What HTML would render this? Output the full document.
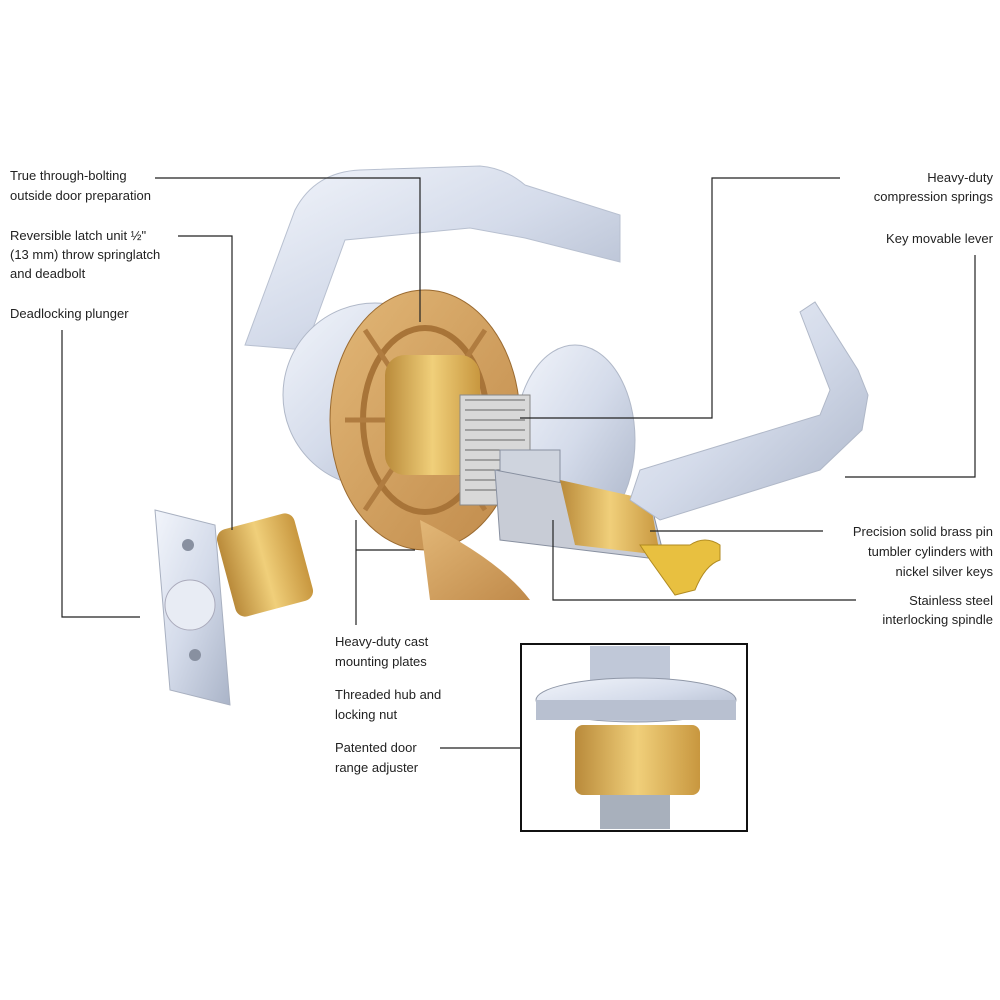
<!DOCTYPE html>
<html><head><meta charset="utf-8"><style>
html,body{margin:0;padding:0;background:#fff;}
svg{display:block}
text{font-family:"Liberation Sans",sans-serif;font-size:13px;fill:#222;}
</style></head><body>
<svg width="1000" height="1000" viewBox="0 0 1000 1000">
<defs>
<linearGradient id="chrome" x1="0" y1="0" x2="1" y2="1"><stop offset="0" stop-color="#f2f5fb"/><stop offset="0.5" stop-color="#d4dbea"/><stop offset="1" stop-color="#aab4c8"/></linearGradient>
<linearGradient id="gold" x1="0" y1="0" x2="1" y2="0"><stop offset="0" stop-color="#b98a3a"/><stop offset="0.5" stop-color="#f0cf7a"/><stop offset="1" stop-color="#c8973f"/></linearGradient>
<linearGradient id="tan" x1="0" y1="0" x2="1" y2="1"><stop offset="0" stop-color="#e2b777"/><stop offset="1" stop-color="#c08a4a"/></linearGradient>
</defs>
<!-- back lever -->
<path d="M245,345 L295,210 Q315,172 360,170 L480,166 Q505,168 525,185 L620,215 L620,262 L525,238 L470,228 L345,240 L305,350 Z" fill="url(#chrome)" stroke="#b8c0d0"/>
<!-- back rose -->
<circle cx="375" cy="395" r="92" fill="url(#chrome)" stroke="#b0b8c8"/>
<!-- mounting plate -->
<ellipse cx="425" cy="420" rx="95" ry="130" fill="url(#tan)" stroke="#9a6a30"/>
<ellipse cx="425" cy="420" rx="62" ry="92" fill="none" stroke="#a87438" stroke-width="6"/>
<path d="M365,330 L485,510 M365,510 L485,330 M345,420 L505,420" stroke="#b07c40" stroke-width="5"/>
<path d="M420,520 Q500,560 530,600 L430,600 Z" fill="url(#tan)"/>
<!-- front rose -->
<ellipse cx="575" cy="440" rx="60" ry="95" fill="url(#chrome)" stroke="#b0b8c8"/>
<!-- gold cylinder -->
<rect x="385" y="355" width="95" height="120" rx="20" fill="url(#gold)"/>
<!-- spring -->
<rect x="460" y="395" width="70" height="110" fill="#d8d8d8" stroke="#888"/>
<path d="M465,400 L525,400 M465,410 L525,410 M465,420 L525,420 M465,430 L525,430 M465,440 L525,440 M465,450 L525,450 M465,460 L525,460 M465,470 L525,470 M465,480 L525,480 M465,490 L525,490" stroke="#666"/>
<!-- hub -->
<rect x="500" y="450" width="60" height="70" fill="#cfd4de" stroke="#8890a0"/>
<!-- spindle -->
<path d="M495,470 L650,500 L665,560 L500,540 Z" fill="#c8ccd6" stroke="#8890a0"/>
<path d="M560,480 L650,500 L660,555 L575,545 Z" fill="url(#gold)"/>
<!-- front lever -->
<path d="M630,500 L640,470 L820,415 L830,390 L800,312 L815,302 L858,370 L868,395 L862,430 L820,470 L660,520 Z" fill="url(#chrome)" stroke="#b0b8c8"/>
<!-- key -->
<path d="M640,545 L690,545 Q705,535 720,545 L720,560 Q705,565 695,590 L675,595 L650,560 Z" fill="#e8c040" stroke="#b08a20"/>
<!-- latch -->
<rect x="225" y="520" width="80" height="90" rx="10" fill="url(#gold)" transform="rotate(-15 265 565)"/>
<path d="M155,510 L215,525 L230,705 L170,690 Z" fill="url(#chrome)" stroke="#a8b0c0"/>
<circle cx="188" cy="545" r="6" fill="#8890a0"/><circle cx="195" cy="655" r="6" fill="#8890a0"/>
<circle cx="190" cy="605" r="25" fill="#e8ecf4" stroke="#aab"/>
<!-- labels left -->
<text x="10" y="180">True through-bolting</text>
<text x="10" y="200">outside door preparation</text>
<text x="10" y="240">Reversible latch unit ½"</text>
<text x="10" y="259">(13 mm) throw springlatch</text>
<text x="10" y="278">and deadbolt</text>
<text x="10" y="318">Deadlocking plunger</text>
<g stroke="#222" fill="none" stroke-width="1.2">
<path d="M155,178 L420,178 L420,322"/>
<path d="M178,236 L232,236 L232,530"/>
<path d="M62,330 L62,617 L140,617"/>
<path d="M840,178 L712,178 L712,418 L520,418"/>
<path d="M975,255 L975,477 L845,477"/>
<path d="M823,531 L650,531"/>
<path d="M553,520 L553,600 L856,600"/>
<path d="M356,520 L356,625 M356,550 L415,550"/>
<path d="M440,748 L600,748"/>
</g>
<g text-anchor="end">
<text x="993" y="182">Heavy-duty</text>
<text x="993" y="201">compression springs</text>
<text x="993" y="243">Key movable lever</text>
<text x="993" y="536">Precision solid brass pin</text>
<text x="993" y="556">tumbler cylinders with</text>
<text x="993" y="576">nickel silver keys</text>
<text x="993" y="605">Stainless steel</text>
<text x="993" y="624">interlocking spindle</text>
</g>
<text x="335" y="646">Heavy-duty cast</text>
<text x="335" y="666">mounting plates</text>
<text x="335" y="699">Threaded hub and</text>
<text x="335" y="719">locking nut</text>
<text x="335" y="752">Patented door</text>
<text x="335" y="772">range adjuster</text>
<!-- inset -->
<rect x="521" y="644" width="226" height="187" fill="#fff" stroke="#111" stroke-width="2"/>
<rect x="590" y="646" width="80" height="40" fill="#c0c8d8"/>
<ellipse cx="636" cy="700" rx="100" ry="22" fill="url(#chrome)" stroke="#9098a8"/>
<rect x="536" y="700" width="200" height="20" fill="#b8c0d0"/>
<rect x="575" y="725" width="125" height="70" rx="8" fill="url(#gold)"/>
<rect x="600" y="795" width="70" height="34" fill="#a8b0bc"/>
</svg>
</body></html>
